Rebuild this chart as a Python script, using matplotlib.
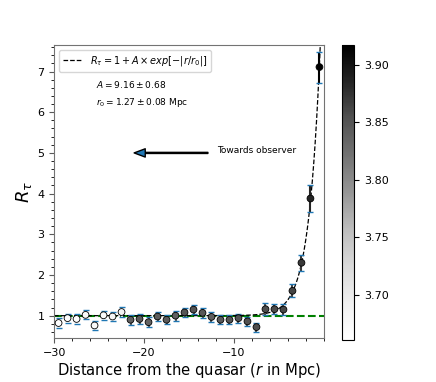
import numpy as np
import matplotlib.pyplot as plt

# distance bins (Mpc) and R_tau values
r = [-29.5, -28.5, -27.5, -26.5, -25.5, -24.5, -23.5, -22.5, -21.5, -20.5,
     -19.5, -18.5, -17.5, -16.5, -15.5, -14.5, -13.5, -12.5, -11.5, -10.5,
     -9.5, -8.5, -7.5, -6.5, -5.5, -4.5, -3.5, -2.5, -1.5, -0.5]
R_tau = [0.82, 0.94, 0.92, 1.02, 0.76, 1.01, 0.98, 1.09, 0.90, 0.92,
         0.84, 0.98, 0.90, 1.00, 1.08, 1.15, 1.07, 0.97, 0.90, 0.90,
         0.94, 0.86, 0.72, 1.16, 1.16, 1.15, 1.61, 2.30, 3.88, 7.11]
R_err = [0.12, 0.11, 0.12, 0.11, 0.12, 0.11, 0.11, 0.12, 0.12, 0.12,
         0.12, 0.12, 0.11, 0.12, 0.12, 0.12, 0.12, 0.12, 0.11, 0.11,
         0.11, 0.11, 0.11, 0.14, 0.13, 0.13, 0.16, 0.20, 0.33, 0.38]
# colour value of each point (colourbar quantity)
zval = [3.661, 3.668, 3.665, 3.672, 3.675, 3.670, 3.680, 3.685, 3.840, 3.845,
        3.838, 3.842, 3.845, 3.840, 3.848, 3.850, 3.846, 3.842, 3.845, 3.848,
        3.850, 3.852, 3.855, 3.856, 3.858, 3.860, 3.862, 3.870, 3.885, 3.917]

A, r0 = 9.16, 1.27

fig = plt.figure(figsize=(4.36, 3.82), dpi=100)
ax = fig.add_axes([0.124, 0.115, 0.619, 0.767])
cax = fig.add_axes([0.784, 0.11, 0.028, 0.772])

cmap = plt.get_cmap('Greys')
norm = plt.Normalize(min(zval), max(zval))

ax.axhline(1, color='green', linestyle='--', linewidth=1.5, zorder=1)

rr = np.linspace(-30, 0, 400)
ax.plot(rr, 1 + A * np.exp(-np.abs(rr / r0)), 'k--', linewidth=0.9,
        label=r'$R_{\tau} = 1 + A \times exp[-|r/r_0|]$', zorder=2)

eb = ax.errorbar(r, R_tau, yerr=R_err, fmt='none', ecolor='C0', capsize=2,
                 elinewidth=1.5, capthick=1, zorder=3)
eb[2][0].set_color([cmap(norm(z)) for z in zval])
sc = ax.scatter(r, R_tau, c=zval, cmap=cmap, norm=norm, s=24,
                edgecolors='k', linewidths=0.6, zorder=4)

ax.text(-25.3, 6.68, r'$A = 9.16 \pm 0.68$', fontsize=6.5, va='center')
ax.text(-25.3, 6.24, r'$r_0 = 1.27 \pm 0.08$ Mpc', fontsize=6.5, va='center')
ax.annotate('', xy=(-21.1, 5.0), xytext=(-12.9, 5.0),
            arrowprops=dict(facecolor='C0', edgecolor='k', width=0.8,
                            headwidth=6, headlength=8))
ax.text(-11.9, 5.05, 'Towards observer', fontsize=6.5, va='center')

ax.set_xlim(-30, 0)
ax.set_ylim(0.45, 7.65)
ax.minorticks_on()
ax.set_xticks([-30, -20, -10])
ax.tick_params(labelsize=8, colors='0.35', labelcolor='k')
for s in ax.spines.values():
    s.set_color('0.45')
ax.set_xlabel(r'Distance from the quasar ($r$ in Mpc)', fontsize=10.6,
              labelpad=2)
ax.set_ylabel(r'$R_{\tau}$', fontsize=13, labelpad=2)
ax.legend(loc='upper left', fontsize=7)

cb = fig.colorbar(sc, cax=cax)
cb.set_ticks([3.70, 3.75, 3.80, 3.85, 3.90])
cb.ax.tick_params(labelsize=8)

fig.savefig('out.png', dpi=100)
